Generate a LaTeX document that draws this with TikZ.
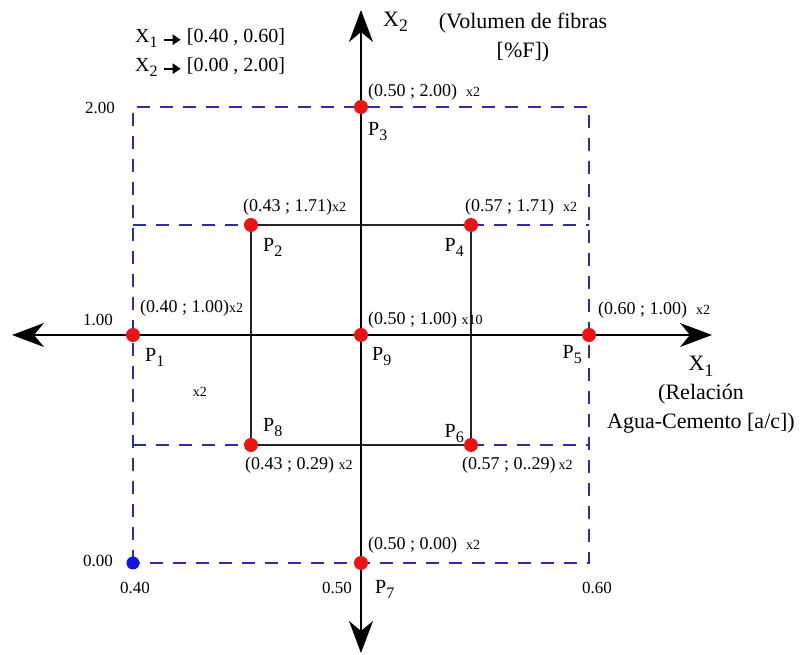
\documentclass[tikz,border=0pt]{standalone}
\usepackage{fontspec}
\setmainfont{Liberation Serif}
\usetikzlibrary{arrows.meta}
\definecolor{gridblue}{RGB}{45,45,165}
\definecolor{ptred}{RGB}{235,20,20}
\definecolor{ptblue}{RGB}{20,20,225}
\newcommand{\lowidx}[1]{\raisebox{-0.55ex}{\scalebox{0.8}{#1}}}
\newcommand{\rep}[1]{{\fontsize{14}{14}\selectfont x#1}}
\newcommand{\rarr}{\tikz[baseline=-0.35ex, x=1pt, y=1pt]\draw[line width=2.2pt, -{Triangle[length=8pt,width=10pt]}] (0,0) -- (17,0);}
\tikzset{
  axis/.style={line width=1.6pt, {Stealth[length=32pt,width=24pt,inset=10pt]}-{Stealth[length=32pt,width=24pt,inset=10pt]}},
  frame/.style={gridblue, line width=1.4pt, dash pattern=on 13pt off 10pt},
  inner/.style={black!85, line width=1.4pt},
  dot/.style={circle, fill=ptred, inner sep=0pt, minimum size=14pt},
  coordlbl/.style={font=\fontsize{18}{18}\selectfont, inner sep=0pt, anchor=west},
  ptlbl/.style={font=\fontsize{20}{20}\selectfont, inner sep=0pt},
  ticklbl/.style={font=\fontsize{17}{17}\selectfont, inner sep=0pt},
  title/.style={font=\fontsize{22}{29}\selectfont, align=center, inner sep=0pt}
}
\begin{document}
\begin{tikzpicture}[x=1pt,y=1pt]
\useasboundingbox (-361,-320) rectangle (443,335);
% design points
\coordinate (c1) at (-228,0);
\coordinate (c2) at (-110,110);
\coordinate (c3) at (0,228);
\coordinate (c4) at (110,110);
\coordinate (c5) at (228,0);
\coordinate (c6) at (110,-110);
\coordinate (c7) at (0,-228);
\coordinate (c8) at (-110,-110);
\coordinate (c9) at (0,0);
% corners
\coordinate (sw) at (-228,-228);
\coordinate (ne) at (228,228);
% dashed frame
\draw[frame] (sw) rectangle (ne);
\draw[frame] (c2 -| sw) -- (c2);
\draw[frame] (c4) -- (c4 -| ne);
\draw[frame] (c8 -| sw) -- (c8);
\draw[frame] (c6) -- (c6 -| ne);
% inner square
\draw[inner] (c2) rectangle (c6);
% axes
\coordinate (xl) at (-349,0);
\coordinate (xr) at (351,0);
\coordinate (yt) at (0,325);
\coordinate (yb) at (0,-318);
\draw[axis] (xl) -- (xr);
\draw[axis] (yb) -- (yt);
% points
\foreach \i in {1,...,9}
  \node[dot] (P\i) at (c\i) {};
\node[dot, fill=ptblue, minimum size=13pt] (O) at (sw) {};
% point names
\node[ptlbl, anchor=west] (n1) at ([shift={(12,-22)}]P1) {P\lowidx{1}};
\node[ptlbl, anchor=west] (n2) at ([shift={(12,-22)}]P2) {P\lowidx{2}};
\node[ptlbl, anchor=west] (n3) at ([shift={(7,-25)}]P3) {P\lowidx{3}};
\node[ptlbl, anchor=east] (n4) at ([shift={(-7,-22)}]P4) {P\lowidx{4}};
\node[ptlbl, anchor=east] (n5) at ([shift={(-7,-20)}]P5) {P\lowidx{5}};
\node[ptlbl, anchor=east] (n6) at ([shift={(-7,11)}]P6) {P\lowidx{6}};
\node[ptlbl, anchor=west] (n7) at ([shift={(14,-26)}]P7) {P\lowidx{7}};
\node[ptlbl, anchor=west] (n8) at ([shift={(12,17)}]P8) {P\lowidx{8}};
\node[ptlbl, anchor=west] (n9) at ([shift={(11,-22)}]P9) {P\lowidx{9}};
% coordinates of the points
\node[coordlbl] (v1) at ([shift={(7,27)}]P1) {(0.40 ; 1.00)\rep{2}};
\node[coordlbl] (v2) at ([shift={(-8,18)}]P2) {(0.43 ; 1.71)\rep{2}};
\node[coordlbl] (v3) at ([shift={(7,15)}]P3) {(0.50 ; 2.00) \ \rep{2}};
\node[coordlbl] (v4) at ([shift={(-6,18)}]P4) {(0.57 ; 1.71) \ \rep{2}};
\node[coordlbl] (v5) at ([shift={(9,25)}]P5) {(0.60 ; 1.00) \ \rep{2}};
\node[coordlbl] (v6) at ([shift={(-9,-20)}]P6) {(0.57 ; 0..29)\,\rep{2}};
\node[coordlbl] (v7) at ([shift={(7,18)}]P7) {(0.50 ; 0.00) \ \rep{2}};
\node[coordlbl] (v8) at ([shift={(-6,-20)}]P8) {(0.43 ; 0.29) \rep{2}};
\node[coordlbl] (v9) at ([shift={(7,15)}]P9) {(0.50 ; 1.00) \rep{10}};
\node[inner sep=0pt] (extra) at (-161,-57) {\rep{2}};
% axis values
\node[ticklbl] (t200) at (-261,227) {2.00};
\node[ticklbl] (t100) at (-263,15) {1.00};
\node[ticklbl] (t000) at (-263,-226) {0.00};
\node[ticklbl] (t040) at (-226,-253) {0.40};
\node[ticklbl] (t050) at (-24,-253) {0.50};
\node[ticklbl] (t060) at (236,-253) {0.60};
% axis names
\node[title, anchor=west] (x2) at (22,313) {X\lowidx{2}};
\node[title] (x2name) at (162,297) {(Volumen de fibras\\{}[\%F])};
\node[title] (x1name) at (340,-60) {X\lowidx{1}\\(Relación\\Agua-Cemento [a/c])};
% ranges
\node[font=\fontsize{20}{29}\selectfont, align=left, anchor=west, inner sep=0pt] (ranges) at (-226,282)
  {X\lowidx{1} \rarr\ [0.40 , 0.60]\\X\lowidx{2} \rarr\ [0.00 , 2.00]};
\end{tikzpicture}
\end{document}
